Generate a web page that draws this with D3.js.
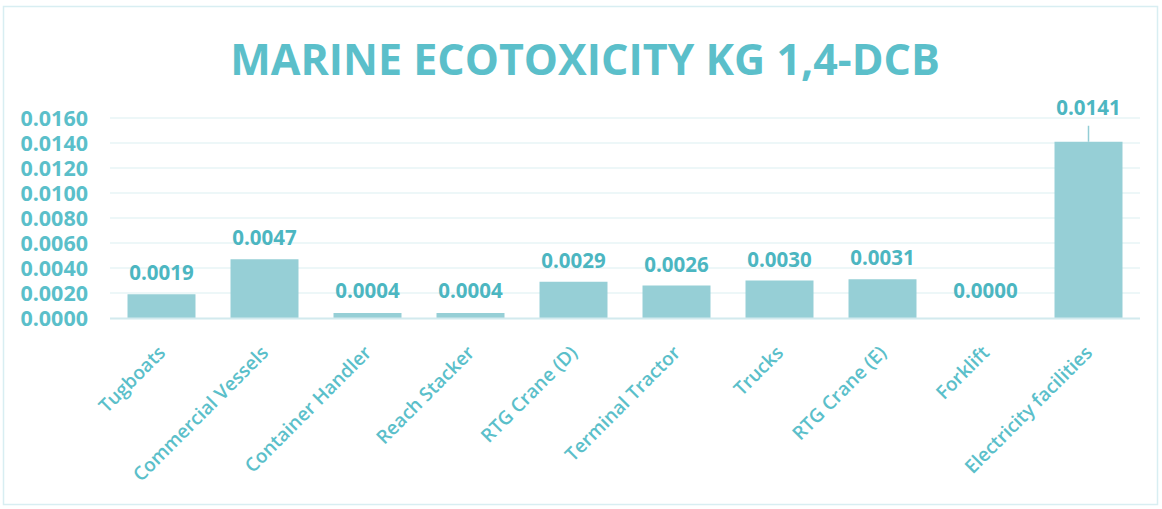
<!DOCTYPE html>
<html>
<head>
<meta charset="utf-8">
<script src="https://cdn.jsdelivr.net/npm/d3@7"></script>
<style>
  html, body { margin: 0; padding: 0; background: #ffffff; }
  svg { display: block; }
</style>
</head>
<body>
<svg id="chart" width="1162" height="509"></svg>
<script>
// Marine ecotoxicity per source (kg 1,4-DCB)
const categories = ["Tugboats", "Commercial Vessels", "Container Handler", "Reach Stacker",
  "RTG Crane (D)", "Terminal Tractor", "Trucks", "RTG Crane (E)", "Forklift", "Electricity facilities"];
const values = [0.0019, 0.0047, 0.0004, 0.0004, 0.0029, 0.0026, 0.0030, 0.0031, 0.0000, 0.0141];
const yTicks = [0, 0.002, 0.004, 0.006, 0.008, 0.010, 0.012, 0.014, 0.016];
const titleText = "MARINE ECOTOXICITY KG 1,4-DCB";

const W = 1162, H = 509;
const plot = { left: 110, right: 1140, top: 118, bottom: 318 };
const teal = "#5bbfca";
const labelTeal = "#4cb6c1";
const font = "'Open Sans', 'DejaVu Sans', sans-serif";

const svg = d3.select("#chart");

// outer frame
svg.append("rect")
  .attr("x", 3.5).attr("y", 6.5).attr("width", W - 8).attr("height", H - 11)
  .attr("fill", "#ffffff").attr("stroke", "#d8eef2").attr("stroke-width", 1.5);

const x = d3.scaleBand().domain(categories).range([plot.left, plot.right]).paddingInner(0.34).paddingOuter(0.17);
const y = d3.scaleLinear().domain([0, 0.016]).range([plot.bottom, plot.top]);

// title
svg.append("text")
  .attr("x", 585).attr("y", 75)
  .attr("text-anchor", "middle")
  .attr("font-family", font).attr("font-weight", 700).attr("font-size", 43)
  .attr("fill", teal)
  .text(titleText);

// gridlines
svg.append("g").selectAll("line").data(yTicks.slice(1)).join("line")
  .attr("x1", plot.left).attr("x2", plot.right)
  .attr("y1", d => y(d)).attr("y2", d => y(d))
  .attr("stroke", "#e7f4f6").attr("stroke-width", 1.5);

// y axis labels
const yAxis = d3.axisLeft(y).tickValues(yTicks).tickFormat(d3.format(".4f")).tickSize(0).tickPadding(0);
const gy = svg.append("g").attr("transform", "translate(88,0)").call(yAxis);
gy.select(".domain").remove();
gy.selectAll("text")
  .attr("font-family", font).attr("font-weight", 700).attr("font-size", 21.5)
  .attr("fill", teal).attr("dy", "0.36em");

// bars
svg.append("g").selectAll("rect").data(values).join("rect")
  .attr("x", (d, i) => x(categories[i]))
  .attr("width", x.bandwidth())
  .attr("y", d => y(d))
  .attr("height", d => y(0) - y(d))
  .attr("fill", "#93cdd5")
  .attr("fill-opacity", 0.97);

// baseline
svg.append("line")
  .attr("x1", plot.left).attr("x2", plot.right)
  .attr("y1", y(0) + 0.5).attr("y2", y(0) + 0.5)
  .attr("stroke", "#d2eaee").attr("stroke-width", 2);

// value labels
const maxV = d3.max(values);
const lab = svg.append("g");
values.forEach((v, i) => {
  const cx = x(categories[i]) + x.bandwidth() / 2;
  let ty = Math.min(y(v) - 14, y(0) - 20);
  if (v === maxV) {
    // largest bar: label lifted with a leader line
    lab.append("line")
      .attr("x1", cx).attr("x2", cx)
      .attr("y1", y(v)).attr("y2", y(v) - 16)
      .attr("stroke", "#93cdd5").attr("stroke-width", 1.5);
    ty = y(v) - 27;
  }
  lab.append("text")
    .attr("x", cx).attr("y", ty)
    .attr("text-anchor", "middle")
    .attr("font-family", font).attr("font-weight", 700).attr("font-size", 20.5)
    .attr("fill", labelTeal)
    .text(d3.format(".4f")(v));
});

// category labels
const xAxis = d3.axisBottom(x).tickSize(0).tickPadding(0);
const gx = svg.append("g").attr("transform", `translate(0,${plot.bottom})`).call(xAxis);
gx.select(".domain").remove();
gx.selectAll("text")
  .attr("font-family", font).attr("font-weight", 600).attr("font-size", 19)
  .attr("fill", teal)
  .attr("text-anchor", "end")
  .attr("dy", 0)
  .attr("transform", "translate(5,36) rotate(-45)");
</script>
</body>
</html>
